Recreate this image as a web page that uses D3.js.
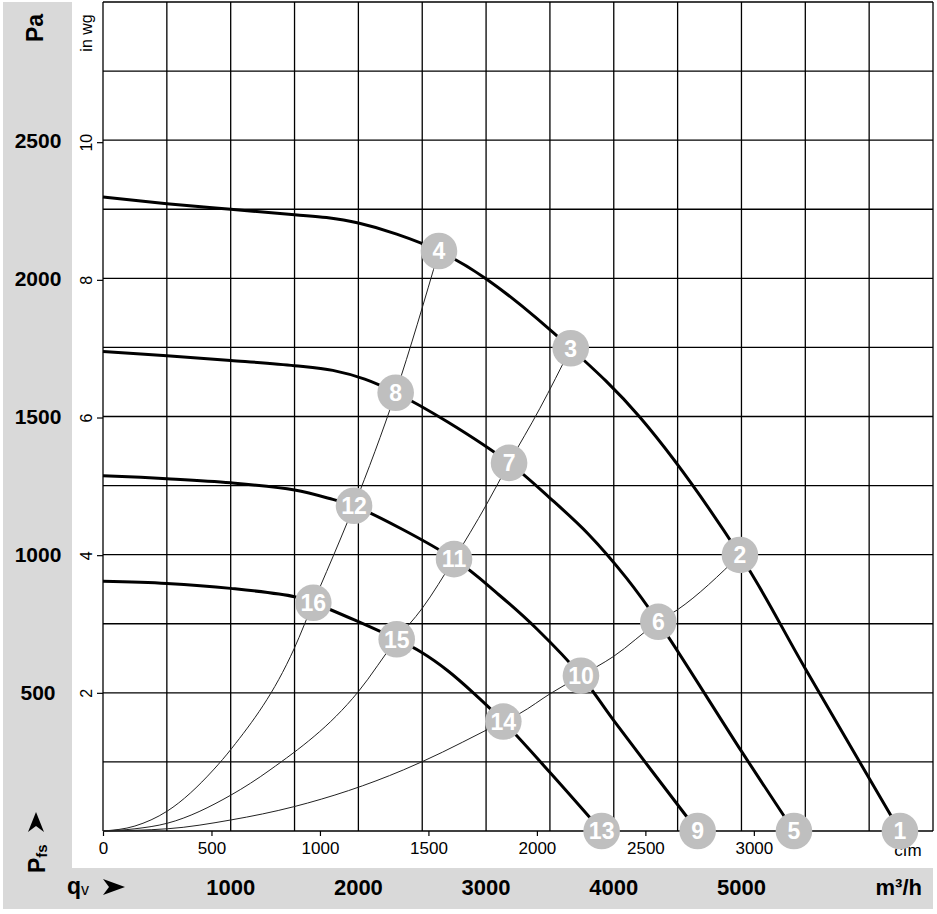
<!DOCTYPE html>
<html><head><meta charset="utf-8">
<script src="https://cdn.jsdelivr.net/npm/d3@7"></script>
<style>
body{margin:0;background:#fff}
svg{display:block}
text{font-family:"Liberation Sans",Arial,Helvetica,sans-serif}
</style>
</head><body>
<svg id="c" width="937" height="914"></svg>
<script>
// ---------- DATA (flow in m³/h, pressure in Pa) ----------
const fanCurve1 = [[0,2294],[500,2270],[1000,2250],[1500,2230],[1750,2220],[2000,2200],[2300,2160],[2631,2099],[3005,1997],[3663,1747],[4205,1497],[4988,999],[5497,590],[6241,0]];
const fanCurve2 = [[0,1735],[500,1720],[1000,1703],[1500,1684],[1800,1667],[2050,1635],[2292,1586],[2700,1480],[3180,1332],[3500,1205],[3800,1075],[4100,915],[4349,757],[5002,287],[5411,0]];
const fanCurve3 = [[0,1286],[500,1275],[1000,1260],[1500,1234],[1800,1200],[1966,1177],[2749,984],[3100,855],[3400,730],[3743,562],[3996,402],[4657,0]];
const fanCurve4 = [[0,904],[500,896],[1000,878],[1500,848],[1647,826],[2300,694],[2500,645],[2700,580],[2900,500],[3135,396],[3506,209],[3905,0]];

const systemCurveA = [[0,0],[250,18],[503,72],[864,221],[1008,299],[1498,661],[1647,826],[1856,1053],[1966,1177],[2292,1586],[2631,2099]];
const systemCurveB = [[0,0],[250,8],[503,28],[1002,130],[1308,221],[1999,504],[2300,694],[2500,806],[2749,984],[3005,1183],[3180,1332],[3422,1530],[3663,1747]];
const systemCurveC = [[0,0],[503,8],[1002,40],[1495,88],[2352,221],[2500,251],[3135,396],[3266,426],[3506,498],[3743,562],[3996,631],[4349,757],[4497,800],[4988,999]];

const pointIds      = [1,2,3,4,5,6,7,8,9,10,11,12,13,14,15,16];
const pointFlow     = [6241,4988,3663,2631,5411,4349,3180,2292,4657,3743,2749,1966,3905,3135,2300,1647];
const pointPressure = [0,999,1747,2099,0,757,1332,1586,0,562,984,1177,0,396,694,826];

const gridFlowTicks     = [0,500,1000,1500,2000,2500,3000,3500,4000,4500,5000,5500,6000,6500];
const gridPressureTicks = [0,250,500,750,1000,1250,1500,1750,2000,2250,2500,2750,3000];
const paLabels   = [500,1000,1500,2000,2500];
const m3hLabels  = [1000,2000,3000,4000,5000];
const cfmTicks   = [0,500,1000,1500,2000,2500,3000];
const inwgTicks  = [2,4,6,8,10];
const CFM_TO_M3H = 1.699;
const INWG_TO_PA = 249.09;

// ---------- CHART ----------
const svg = d3.select('#c');
const x = d3.scaleLinear().domain([0,6500]).range([103,933]);
const y = d3.scaleLinear().domain([0,3000]).range([831,2]);
const xc = d3.scaleLinear().domain([0,6500/CFM_TO_M3H]).range([103,933]);
const yi = d3.scaleLinear().domain([0,3000/INWG_TO_PA]).range([831,2]);

// grey panels
svg.append('rect').attr('x',3).attr('y',2).attr('width',69).attr('height',867).attr('fill','#d9d9d9');
svg.append('rect').attr('x',3).attr('y',868).attr('width',930).attr('height',41).attr('fill','#d9d9d9');

// grid
const grid = svg.append('g').attr('stroke','#000').attr('stroke-width',1.3);
grid.selectAll('line.v').data(gridFlowTicks).join('line')
  .attr('x1',d=>x(d)).attr('x2',d=>x(d)).attr('y1',y(0)).attr('y2',y(3000));
grid.selectAll('line.h').data(gridPressureTicks).join('line')
  .attr('x1',x(0)).attr('x2',x(6500)).attr('y1',d=>y(d)).attr('y2',d=>y(d));

// cfm axis
const ax = svg.append('g').attr('transform',`translate(0,${y(0)})`)
  .call(d3.axisBottom(xc).tickValues(cfmTicks).tickSize(5).tickPadding(6).tickFormat(d3.format('d')));
ax.select('.domain').remove();
ax.selectAll('line').attr('stroke','#000').attr('stroke-width',1.2);
ax.selectAll('text').attr('font-size',17).attr('fill','#000').style('font-family','"Liberation Sans",Arial,sans-serif');
svg.append('text').attr('x',908).attr('y',856).attr('text-anchor','middle').attr('font-size',17).text('cfm');

// in wg axis
const wg = svg.append('g');
wg.selectAll('line').data(inwgTicks).join('line')
  .attr('x1',97).attr('x2',103).attr('y1',d=>yi(d)).attr('y2',d=>yi(d)).attr('stroke','#000').attr('stroke-width',1.2);
wg.selectAll('text').data(inwgTicks).join('text')
  .attr('transform',d=>`translate(92,${yi(d)}) rotate(-90)`)
  .attr('text-anchor','middle').attr('font-size',16).text(d=>d);
svg.append('text').attr('transform','translate(92,33) rotate(-90)')
  .attr('text-anchor','middle').attr('font-size',16).text('in wg');

// Pa labels
svg.selectAll('text.pa').data(paLabels).join('text').attr('class','pa')
  .attr('x',38).attr('y',d=>y(d)).attr('dy','0.36em').attr('text-anchor','middle')
  .attr('font-size',21).attr('font-weight','bold').text(d=>d);
svg.append('text').attr('transform','translate(43,28) rotate(-90)')
  .attr('text-anchor','middle').attr('font-size',23).attr('font-weight','bold').text('Pa');

// m3/h labels
svg.selectAll('text.m3').data(m3hLabels).join('text').attr('class','m3')
  .attr('x',d=>x(d)).attr('y',895).attr('text-anchor','middle')
  .attr('font-size',22).attr('font-weight','bold').text(d=>d);
svg.append('text').attr('x',922).attr('y',895).attr('text-anchor','end')
  .attr('font-size',22).attr('font-weight','bold').text('m³/h');

// qv label + arrow
const qv = svg.append('text').attr('x',67).attr('y',894).attr('font-weight','bold');
qv.append('tspan').attr('font-size',23).text('q');
qv.append('tspan').attr('font-size',16).attr('font-weight','normal').attr('dy',1).text('v');
svg.append('path').attr('d','M103,879 L125,887 L103,895 L109,887 Z').attr('fill','#000');

// Pfs label + arrow
const pf = svg.append('text').attr('transform','translate(45,873) rotate(-90)').attr('font-weight','bold');
pf.append('tspan').attr('font-size',23).text('P');
pf.append('tspan').attr('font-size',15).attr('dy',2).text('fs');
svg.append('path').attr('d','M28,832 L36,812 L44,832 L36,826 Z').attr('fill','#000');

// curves
const sysLine = d3.line().x(d=>x(d[0])).y(d=>y(d[1])).curve(d3.curveMonotoneX);
const fanLine = d3.line().x(d=>x(d[0])).y(d=>y(d[1])).curve(d3.curveCatmullRom.alpha(0.5));
[systemCurveA, systemCurveB, systemCurveC].forEach(c=>{
  svg.append('path').attr('d',sysLine(c)).attr('fill','none').attr('stroke','#222').attr('stroke-width',1);
});
[fanCurve1, fanCurve2, fanCurve3, fanCurve4].forEach(c=>{
  svg.append('path').attr('d',fanLine(c)).attr('fill','none').attr('stroke','#000').attr('stroke-width',3).attr('stroke-linejoin','round');
});

// operating point markers
const pts = pointIds.map((id,i)=>({id, q:pointFlow[i], p:pointPressure[i]}));
const gp = svg.selectAll('g.pt').data(pts).join('g').attr('class','pt')
  .attr('transform',d=>`translate(${x(d.q)},${y(d.p)})`);
gp.append('circle').attr('r',18.3).attr('fill','#bfbfbf');
gp.append('text').attr('text-anchor','middle').attr('dy','0.36em')
  .attr('font-size',23).attr('font-weight','bold').attr('fill','#fff').text(d=>d.id);
</script>
</body></html>
